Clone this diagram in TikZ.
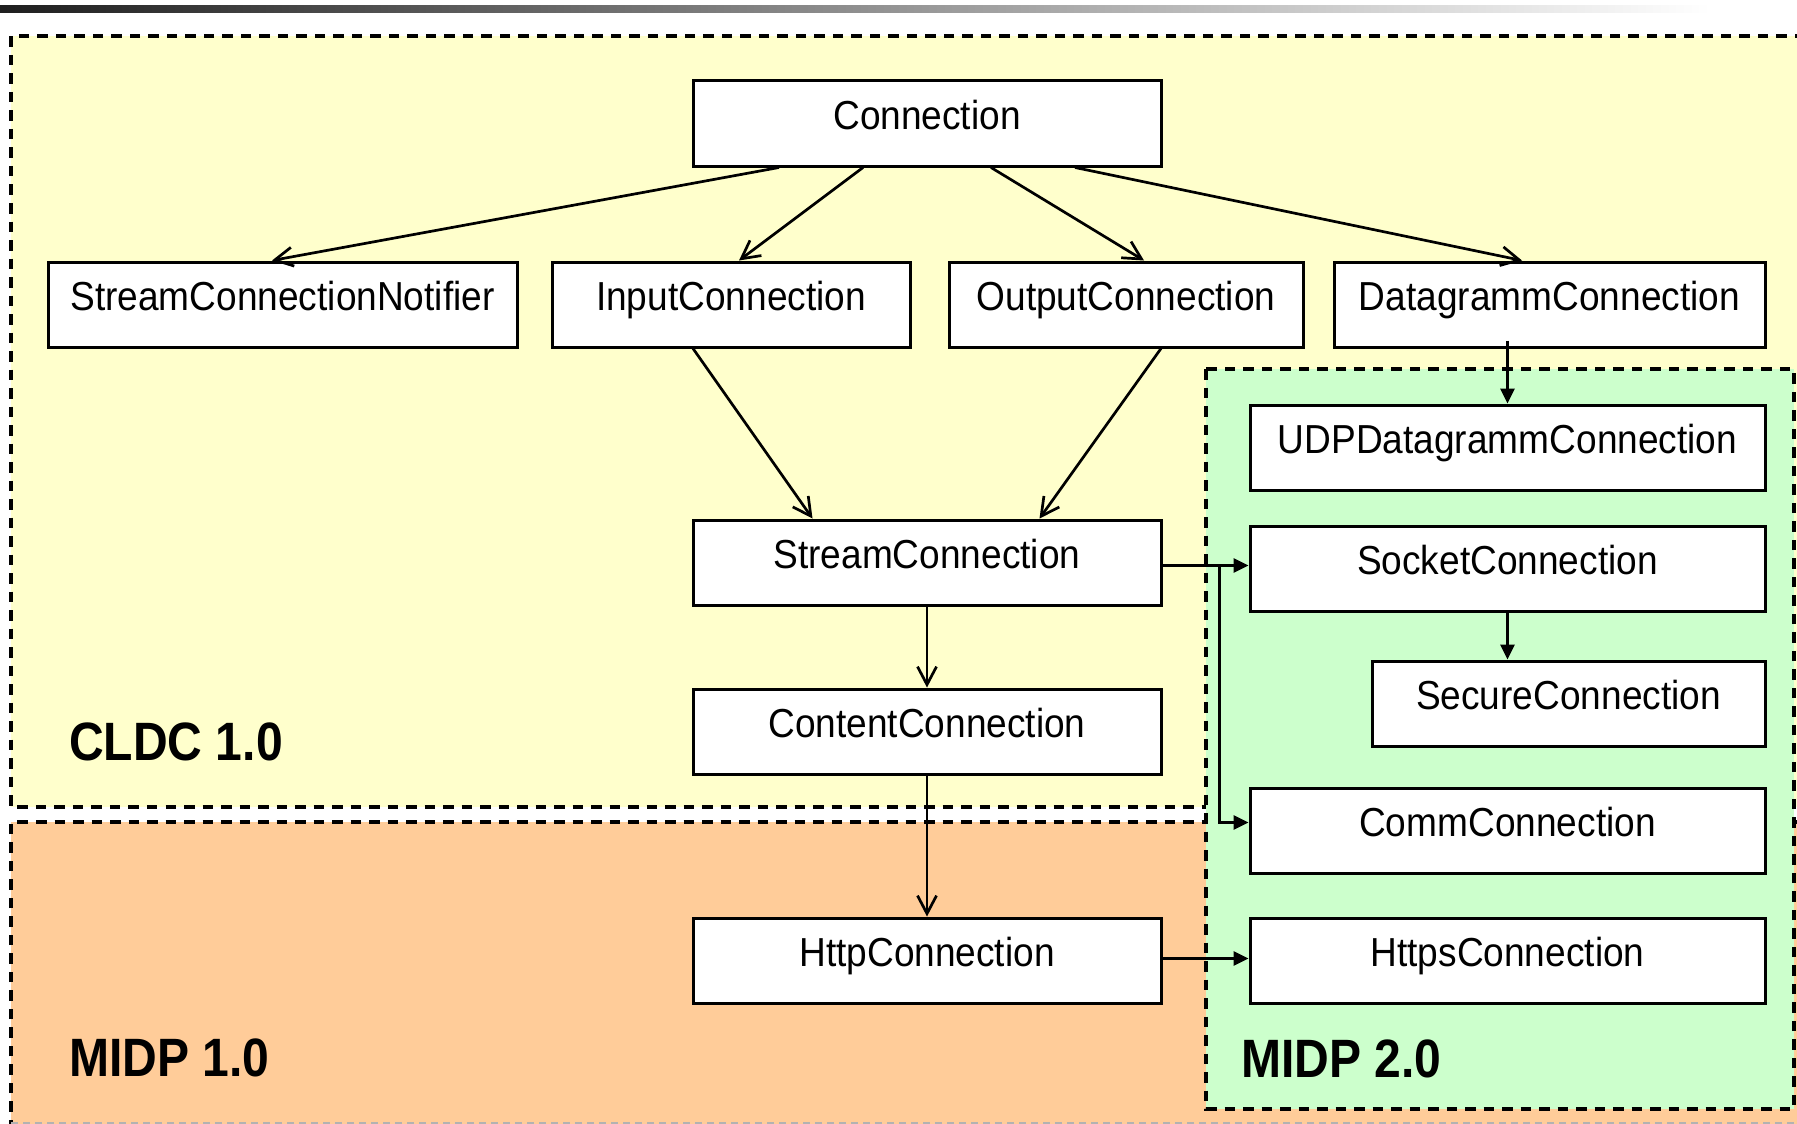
\documentclass[tikz,border=0pt]{standalone}
\usepackage{fontspec}
\setmainfont{Liberation Sans}
\newfontfamily\boxfont[FakeStretch=0.915]{Liberation Sans}
\newfontfamily\tagfont[FakeStretch=0.89]{Liberation Sans}
\usetikzlibrary{arrows.meta,calc}
\definecolor{cldc}{HTML}{FFFFCC}
\definecolor{midpone}{HTML}{FFCC99}
\definecolor{midptwo}{HTML}{CCFFCC}

\begin{document}
\begin{tikzpicture}[x=1pt,y=-1pt,
  cls/.style={draw, line width=3pt, fill=white, inner sep=0pt,
    text height=48pt, text depth=37pt,
    font=\boxfont\fontsize{40.5pt}{48pt}\selectfont},
  region/.style={line width=3.2pt, dash pattern=on 10.5pt off 8pt},
  tag/.style={anchor=base west, inner sep=0pt,
    font=\tagfont\bfseries\fontsize{54pt}{60pt}\selectfont},
  inherit/.style={line width=2.7pt, -{Straight Barb[length=18pt,width=19pt]}},
  uses/.style={line width=2.7pt, -{Triangle[length=15pt,width=14pt]}}]

\useasboundingbox (0,0) rectangle (1797,1124);

% title bar
\shade[left color=black!88, right color=white] (0,6) rectangle (1710,13);

% CLDC 1.0 area
\path[fill=cldc] (11,36) rectangle (1805,807);
\draw[region] (1805,36) -- (11,36) -- (11,807) -- (1206,807);

% MIDP 1.0 area
\path[fill=midpone] (11,822) rectangle (1805,1130);
\draw[region] (11,1130) -- (11,822) -- (1805,822);
\draw[gray!60, line width=1.6pt, dash pattern=on 7pt off 5pt] (11,1123) -- (1805,1123);

% MIDP 2.0 area
\draw[region, fill=midptwo] (1206,369) rectangle (1794,1109);

% interfaces
\node[cls, minimum width=468pt] (conn) at (927,123.5) {Connection};
\node[cls, minimum width=469pt] (scn) at (282.5,304.5) {StreamConnectionNotifier};
\node[cls, minimum width=358pt] (inp) at (731,304.5) {InputConnection};
\node[cls, minimum width=354pt] (outp) at (1126,304.5) {OutputConnection};
\node[cls, minimum width=431pt] (dg) at (1549.5,304.5) {DatagrammConnection};
\node[cls, minimum width=515pt] (udp) at (1507.5,447.5) {UDPDatagrammConnection};
\node[cls, minimum width=468pt] (stream) at (927,562.5) {StreamConnection};
\node[cls, minimum width=515pt] (sock) at (1507.5,568.5) {SocketConnection};
\node[cls, minimum width=393pt] (sec) at (1568.5,703.5) {SecureConnection};
\node[cls, minimum width=468pt] (content) at (927,731.5) {ContentConnection};
\node[cls, minimum width=515pt] (comm) at (1507.5,830.5) {CommConnection};
\node[cls, minimum width=468pt] (http) at (927,960.5) {HttpConnection};
\node[cls, minimum width=515pt] (https) at (1507.5,960.5) {HttpsConnection};

% profile labels
\node[tag] (lcldc) at (69,760) {CLDC 1.0};
\node[tag] (lmidp1) at (69,1076) {MIDP 1.0};
\node[tag] (lmidp2) at (1241,1077) {MIDP 2.0};

% inheritance within CLDC / MIDP 1.0
\draw[inherit] ($(conn.south)+(-148,0)$) -- ($(scn.north)+(-10.5,0)$);
\draw[inherit] ($(conn.south)+(-64,0)$) -- ($(inp.north)+(8,0)$);
\draw[inherit] ($(conn.south)+(64,0)$) -- ($(outp.north)+(18,0)$);
\draw[inherit] ($(conn.south)+(148,0)$) -- ($(dg.north)+(-27.5,0)$);
\draw[inherit] ($(inp.south)+(-38,0)$) -- ($(stream.north)+(-114.5,0)$);
\draw[inherit] ($(outp.south)+(35,0)$) -- ($(stream.north)+(112.5,0)$);
\draw[inherit] (stream.south) -- (content.north);
\draw[inherit] (content.south) -- (http.north);

% MIDP 2.0 additions
\draw[uses] ([yshift=8pt]udp.north |- dg.south) -- (udp.north);
\coordinate (s1) at ([yshift=-3pt]stream.east);
\draw[uses] (s1) -- (sock.west |- s1);
\coordinate (j) at ([xshift=-29pt]sock.west |- s1);
\draw[uses] (j) |- ([yshift=8pt]comm.west);
\draw[uses] (sock.south) -- (sec.north -| sock.south);
\coordinate (s2) at ([yshift=2pt]http.east);
\draw[uses] (s2) -- (https.west |- s2);
\end{tikzpicture}
\end{document}
